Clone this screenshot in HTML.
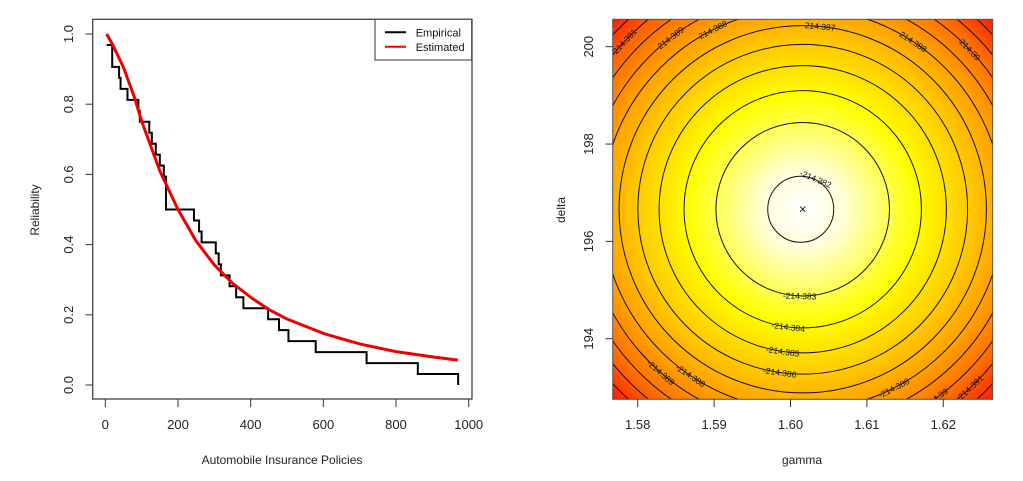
<!DOCTYPE html>
<html><head><meta charset="utf-8"><style>
body{margin:0;background:#fff;}
svg{display:block;font-family:"Liberation Sans",sans-serif;}
</style></head><body>
<svg id="chart" width="1023" height="481" viewBox="0 0 1023 481" xmlns="http://www.w3.org/2000/svg">
<defs>
<radialGradient id="heat" gradientUnits="userSpaceOnUse" cx="802.7" cy="209.3" r="270">
<stop offset="0" stop-color="#ffffff"/>
<stop offset="0.15" stop-color="#ffffd8"/>
<stop offset="0.42" stop-color="#ffff00"/>
<stop offset="0.62" stop-color="#ffc800"/>
<stop offset="0.75" stop-color="#ffa000"/>
<stop offset="0.88" stop-color="#ff6a00"/>
<stop offset="1" stop-color="#ff1800"/>
</radialGradient>
<clipPath id="clipR"><rect x="612.7" y="19.3" width="380" height="380"/></clipPath>
</defs>
<g id="left"></g>
<g id="right"></g>
</svg>
<script>
const NS="http://www.w3.org/2000/svg";
// ---- left chart data ----
const empX=[3.7,19,38,42,61,91,95,121,128,139,150,161,167,244,258,265,304,312,318,342,360,380,448,478,504,579,719,860,971];
const empY=[0.96875,0.90625,0.875,0.84375,0.8125,0.78125,0.75,0.71875,0.6875,0.65625,0.625,0.59375,0.5,0.46875,0.4375,0.40625,0.375,0.34375,0.3125,0.28125,0.25,0.21875,0.1875,0.15625,0.125,0.09375,0.0625,0.03125,0];
const estX=[3.7,20,50,80,100,150,200,250,300,350,400,450,500,600,700,800,900,970];
const estY=[1.0,0.97,0.905,0.82,0.752,0.61,0.5,0.41,0.342,0.29,0.25,0.215,0.188,0.147,0.117,0.095,0.08,0.071];
const xTicksL=[0,200,400,600,800,1000];
const yTicksL=[0.0,0.2,0.4,0.6,0.8,1.0];
// ---- right chart data ----
const centerG=[1.6016], centerD=[196.66];
const levels=[-214.382,-214.383,-214.384,-214.385,-214.386,-214.387,-214.388,-214.389,-214.390,-214.391,-214.392,-214.393];
const labelLevels=[-214.382,-214.383,-214.384,-214.385,-214.386,-214.387,-214.388,-214.388,-214.388,-214.388,-214.389,-214.389,-214.39,-214.39,-214.391,-214.391];
const labelAngles=[-67,92,97,98,98,-85,-117,-57,124,63,-128,131,-44,55,-137,47];
const xTicksR=[1.58,1.59,1.60,1.61,1.62];
const yTicksR=[194,196,198,200];

function el(tag,attrs,parent,text){const e=document.createElementNS(NS,tag);for(const k in attrs)e.setAttribute(k,attrs[k]);if(text!==undefined)e.textContent=text;parent.appendChild(e);return e;}
const L=document.getElementById('left'), R=document.getElementById('right');
const xL=v=>105.3+v*0.3634, yL=v=>385-v*351;
let b=el('rect',{x:92.7,y:19.3,width:379.3,height:379.7,fill:'none',stroke:'#333','stroke-width':1.2},L);

xTicksL.forEach(t=>{
 let l=el('line',{x1:xL(t),x2:xL(t),y1:399,y2:407,stroke:'#333'},L);
 
 let s=el('text',{x:xL(t),y:429,'text-anchor':'middle','font-size':13,fill:'#222'},L,String(t));
 
});
let xa=el('line',{x1:xL(0),x2:xL(1000),y1:399,y2:399,stroke:'#333'},L);

yTicksL.forEach(t=>{
 let l=el('line',{x1:85.5,x2:92.7,y1:yL(t),y2:yL(t),stroke:'#333'},L);
 
 let s=el('text',{x:0,y:0,'text-anchor':'middle','font-size':13,fill:'#222',transform:`translate(73,${yL(t)}) rotate(-90)`},L,t.toFixed(1));
 
});
let t1=el('text',{x:282,y:464,'text-anchor':'middle','font-size':12,fill:'#222'},L,'Automobile Insurance Policies');

let t2=el('text',{x:0,y:0,'text-anchor':'middle','font-size':12,fill:'#222',transform:'translate(39,210) rotate(-90)'},L,'Reliability');

let d=`M${xL(empX[0])},${yL(empY[0])}`;
for(let i=1;i<empX.length;i++){d+=`H${xL(empX[i])}V${yL(empY[i])}`;}
let ep=el('path',{d:d,fill:'none',stroke:'#000','stroke-width':2},L);

let pts=estX.map((x,i)=>`${xL(x)},${yL(estY[i])}`).join(' ');
let es=el('polyline',{points:pts,fill:'none',stroke:'#ee0000','stroke-width':3,'stroke-linejoin':'round'},L);

let lg=el('g',{},L);
el('rect',{x:375,y:19.3,width:96.7,height:40.7,fill:'#fff',stroke:'#333'},lg);
let le1=el('line',{x1:385,x2:406,y1:32.3,y2:32.3,stroke:'#000','stroke-width':2},lg);

let lt1=el('text',{x:415.7,y:36.5,'font-size':11,fill:'#111'},lg,'Empirical');

let le2=el('line',{x1:385,x2:406,y1:46.7,y2:46.7,stroke:'#ee0000','stroke-width':2},lg);

let lt2=el('text',{x:415.7,y:51,'font-size':11,fill:'#111'},lg,'Estimated');


// ---- right ----
const xR=v=>637.7+(v-1.58)*7640, yR=v=>46.7+(200-v)*48.67;
const cx=xR(centerG[0]), cy=yR(centerD[0]);
const rad=lv=>{const q=(-214.38185-lv)/0.001*6550;return Math.sqrt(Math.max(q,1089));};
let hm=el('rect',{x:612.7,y:19.3,width:380,height:380,fill:'url(#heat)'},R);

let cg=el('g',{'clip-path':'url(#clipR)'},R);
levels.forEach(lv=>{
 let c=el('circle',{cx:cx-(lv===-214.382?2:0),cy:cy,r:rad(lv),fill:'none',stroke:'#111','stroke-width':1},cg);
 
});
labelLevels.forEach((lv,i)=>{
 const a=labelAngles[i]*Math.PI/180, r=rad(lv);
 const px=cx+r*Math.cos(a), py=cy+r*Math.sin(a);
 let rot=labelAngles[i]+90; if(rot>90)rot-=180; if(rot<-90)rot+=180;
 let s=el('text',{x:0,y:0,'text-anchor':'middle','font-size':8.5,fill:'#111',transform:`translate(${px},${py}) rotate(${rot}) translate(0,3)`},cg,String(lv));
 
});
let mk=el('text',{x:cx,y:cy+4,'text-anchor':'middle','font-size':13,fill:'#111'},R,'×');

let rb=el('rect',{x:612.7,y:19.3,width:380,height:380,fill:'none',stroke:'#555','stroke-width':1},R);

xTicksR.forEach(t=>{
 let l=el('line',{x1:xR(t),x2:xR(t),y1:399,y2:407,stroke:'#333'},R);
 
 let s=el('text',{x:xR(t),y:429,'text-anchor':'middle','font-size':13,fill:'#222'},R,t.toFixed(2));
 
});
yTicksR.forEach(t=>{
 let l=el('line',{x1:605.5,x2:612.7,y1:yR(t),y2:yR(t),stroke:'#333'},R);
 
 let s=el('text',{x:0,y:0,'text-anchor':'middle','font-size':13,fill:'#222',transform:`translate(593,${yR(t)}) rotate(-90)`},R,String(t));
 
});
let t3=el('text',{x:802,y:464,'text-anchor':'middle','font-size':12,fill:'#222'},R,'gamma');

let t4=el('text',{x:0,y:0,'text-anchor':'middle','font-size':12,fill:'#222',transform:'translate(565,210) rotate(-90)'},R,'delta');

</script>
</body></html>
